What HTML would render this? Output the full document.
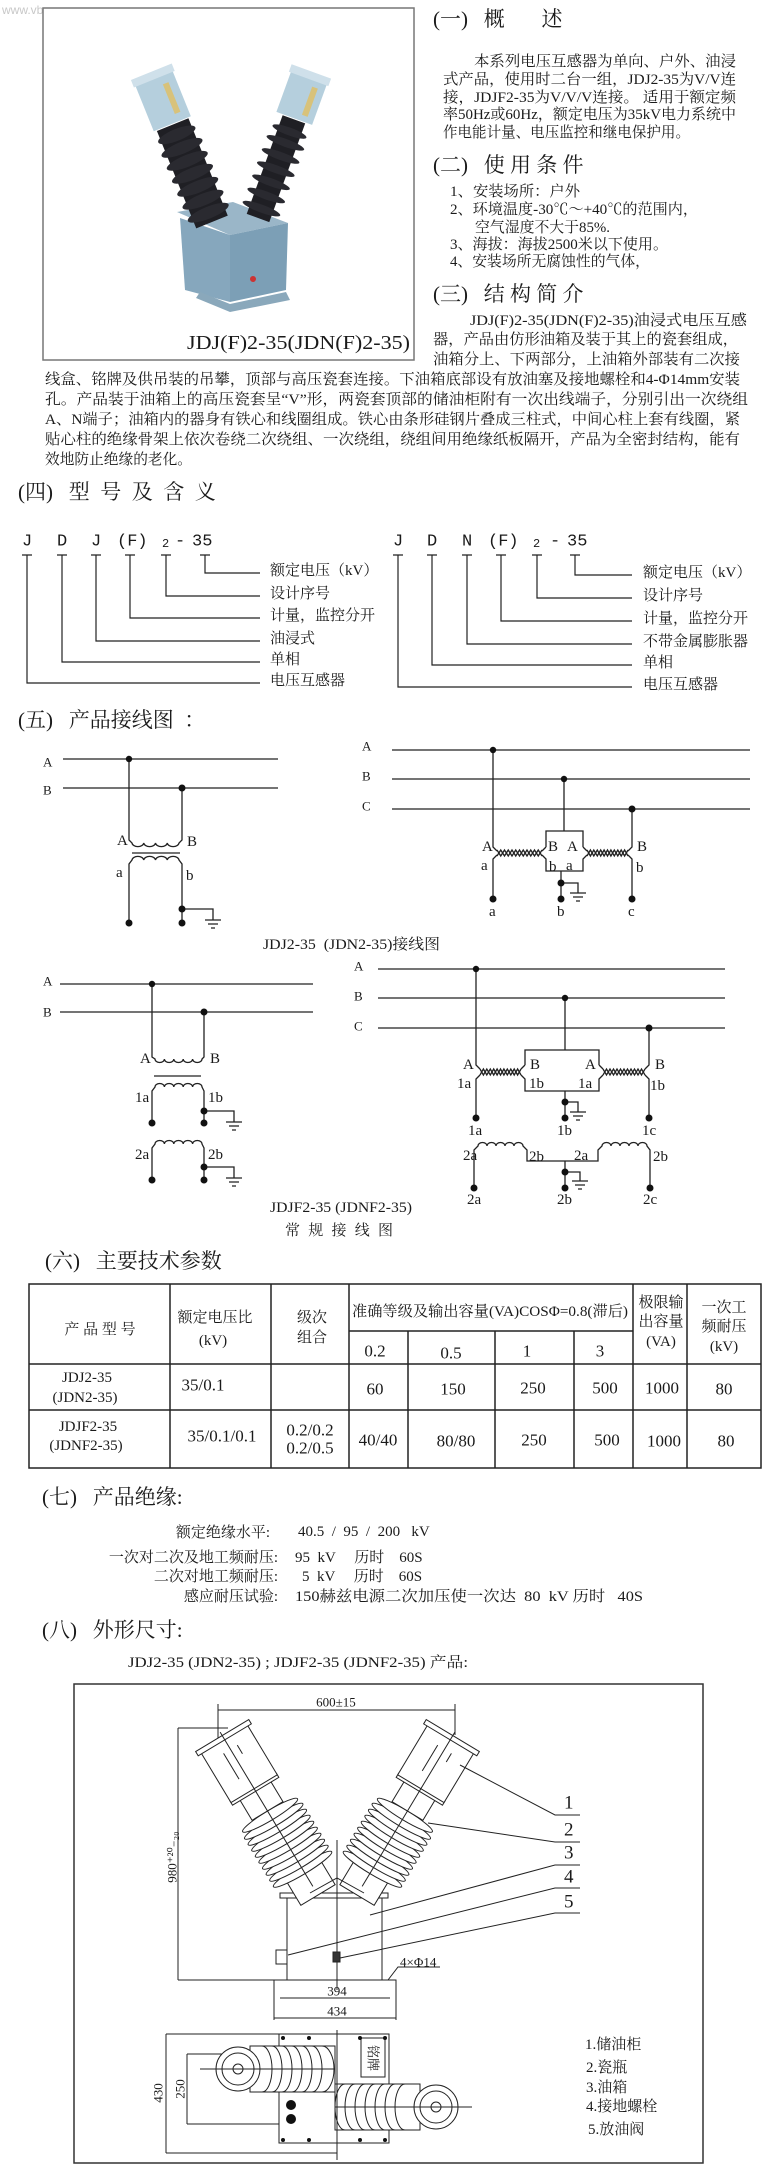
<!DOCTYPE html>
<html><head><meta charset="utf-8">
<style>
html,body{margin:0;padding:0;background:#fff;}
svg{display:block;}
text{font-family:"Liberation Serif","Noto Serif CJK SC",serif;fill:#1a1a1a;dominant-baseline:central;white-space:pre;}
.h{font-size:21px;}
.p{font-size:15px;}
.s{font-size:13px;}
.m{font-family:"Liberation Mono","Noto Serif CJK SC",monospace;font-size:17px;}
</style></head><body>
<svg width="780" height="2176" viewBox="0 0 780 2176" xmlns="http://www.w3.org/2000/svg" xml:space="preserve">
<rect width="780" height="2176" fill="#fff"/>
<text x="2" y="10" style="font-family:'Liberation Sans',sans-serif;font-size:12px;fill:#c8c8c8">www.vbmro.com</text>

<!-- photo box -->
<rect x="43" y="8" width="371" height="352" fill="#fff" stroke="#777" stroke-width="1.5"/>
<!-- tank -->
<polygon points="177,212 233,202 288,223 230,235" fill="#9ab6c8"/>
<polygon points="180,218 230,235 230,302 185,290" fill="#86a7bd"/>
<polygon points="230,235 288,223 286,290 230,302" fill="#7c9fb6"/>
<polygon points="200,292 230,304 286,292 290,300 230,312 196,298" fill="#8aa8bb"/>
<circle cx="253" cy="279" r="3" fill="#c33"/>
<!-- left insulator -->
<g transform="translate(212,222) rotate(-22)">
<rect x="-17" y="-105" width="34" height="105" fill="#1f1f24"/>
<g fill="#2a2a30"><ellipse cx="0" cy="-10" rx="22" ry="6"/><ellipse cx="0" cy="-24" rx="22" ry="6"/><ellipse cx="0" cy="-38" rx="22" ry="6"/><ellipse cx="0" cy="-52" rx="22" ry="6"/><ellipse cx="0" cy="-66" rx="22" ry="6"/><ellipse cx="0" cy="-80" rx="22" ry="6"/><ellipse cx="0" cy="-94" rx="20" ry="6"/></g>
<rect x="-20" y="-158" width="40" height="52" fill="#b5cfdd"/>
<rect x="-22" y="-162" width="44" height="8" fill="#cfe0ea"/>
<rect x="6" y="-146" width="6" height="32" fill="#d8c27a"/>
</g>
<!-- right insulator -->
<g transform="translate(258,218) rotate(20)">
<rect x="-12" y="-105" width="24" height="105" fill="#1f1f24"/>
<g fill="#2a2a30"><ellipse cx="0" cy="-10" rx="20" ry="4"/><ellipse cx="0" cy="-24" rx="20" ry="4"/><ellipse cx="0" cy="-38" rx="20" ry="4"/><ellipse cx="0" cy="-52" rx="20" ry="4"/><ellipse cx="0" cy="-66" rx="20" ry="4"/><ellipse cx="0" cy="-80" rx="20" ry="4"/><ellipse cx="0" cy="-92" rx="18" ry="4"/></g>
<rect x="-19" y="-152" width="38" height="46" fill="#b5cfdd"/>
<rect x="-21" y="-156" width="42" height="8" fill="#cfe0ea"/>
<rect x="6" y="-142" width="6" height="30" fill="#d8c27a"/>
</g>
<text x="187" y="343" style="font-size:20px" textLength="223" lengthAdjust="spacingAndGlyphs">JDJ(F)2-35(JDN(F)2-35)</text>

<!-- section 1 -->
<text class="h" x="433" y="19">(一)   概       述</text>
<text class="p" x="474" y="62" textLength="262" lengthAdjust="spacingAndGlyphs">本系列电压互感器为单向、户外、油浸</text>
<text class="p" x="443" y="80" textLength="293" lengthAdjust="spacingAndGlyphs">式产品，使用时二台一组，JDJ2-35为V/V连</text>
<text class="p" x="443" y="98" textLength="293" lengthAdjust="spacingAndGlyphs">接，JDJF2-35为V/V/V连接。 适用于额定频</text>
<text class="p" x="443" y="115" textLength="293" lengthAdjust="spacingAndGlyphs">率50Hz或60Hz，额定电压为35kV电力系统中</text>
<text class="p" x="443" y="133" textLength="247" lengthAdjust="spacingAndGlyphs">作电能计量、电压监控和继电保护用。</text>
<text class="h" x="433" y="165">(二)   使 用 条 件</text>
<text class="p" x="450" y="192" textLength="130" lengthAdjust="spacingAndGlyphs">1、安装场所：户外</text>
<text class="p" x="450" y="210" textLength="248" lengthAdjust="spacingAndGlyphs">2、环境温度-30℃～+40℃的范围内，</text>
<text class="p" x="475" y="228" textLength="135" lengthAdjust="spacingAndGlyphs">空气湿度不大于85%.</text>
<text class="p" x="450" y="245" textLength="218" lengthAdjust="spacingAndGlyphs">3、海拔：海拔2500米以下使用。</text>
<text class="p" x="450" y="262" textLength="200" lengthAdjust="spacingAndGlyphs">4、安装场所无腐蚀性的气体，</text>
<text class="h" x="433" y="294">(三)   结 构 简 介</text>
<text class="p" x="470" y="321" textLength="277" lengthAdjust="spacingAndGlyphs">JDJ(F)2-35(JDN(F)2-35)油浸式电压互感</text>
<text class="p" x="433" y="340" textLength="305" lengthAdjust="spacingAndGlyphs">器，产品由仿形油箱及装于其上的瓷套组成，</text>
<text class="p" x="433" y="360" textLength="307" lengthAdjust="spacingAndGlyphs">油箱分上、下两部分，上油箱外部装有二次接</text>
<text class="p" x="45" y="380" textLength="695" lengthAdjust="spacingAndGlyphs">线盒、铭牌及供吊装的吊攀，顶部与高压瓷套连接。下油箱底部设有放油塞及接地螺栓和4-Φ14mm安装</text>
<text class="p" x="45" y="400" textLength="703" lengthAdjust="spacingAndGlyphs">孔。产品装于油箱上的高压瓷套呈“V”形，两瓷套顶部的储油柜附有一次出线端子，分别引出一次绕组</text>
<text class="p" x="45" y="420" textLength="695" lengthAdjust="spacingAndGlyphs">A、N端子；油箱内的器身有铁心和线圈组成。铁心由条形硅钢片叠成三柱式，中间心柱上套有线圈，紧</text>
<text class="p" x="45" y="440" textLength="695" lengthAdjust="spacingAndGlyphs">贴心柱的绝缘骨架上依次卷绕二次绕组、一次绕组，绕组间用绝缘纸板隔开，产品为全密封结构，能有</text>
<text class="p" x="45" y="460" textLength="147" lengthAdjust="spacingAndGlyphs">效地防止绝缘的老化。</text>

<!-- section 4 -->
<text class="h" x="18" y="492">(四)   型  号  及  含  义</text>
<g>
<text class="m" x="22" y="542">J</text><text class="m" x="57" y="542">D</text><text class="m" x="91" y="542">J</text><text class="m" x="117" y="542">(F)</text><text class="m" x="162" y="544" style="font-size:12px">2</text><text class="m" x="175" y="542">-</text><text class="m" x="192" y="542">35</text>
<text class="m" x="393" y="542">J</text><text class="m" x="427" y="542">D</text><text class="m" x="462" y="542">N</text><text class="m" x="488" y="542">(F)</text><text class="m" x="533" y="544" style="font-size:12px">2</text><text class="m" x="550" y="542">-</text><text class="m" x="567" y="542">35</text>
</g>
<g stroke="#222" stroke-width="1.2" fill="none">
<path d="M22 555h10M57 555h10M91 555h10M125 555h10M161 555h10M200 555h10"/>
<path d="M205 555V573H260M166 555V596H260M130 555V618H260M96 555V641H260M62 555V662H260M27 555V683H260"/>
<path d="M393 555h10M427 555h10M462 555h10M496 555h10M532 555h10M570 555h10"/>
<path d="M575 555V575H632M537 555V598H632M501 555V621H632M467 555V644H632M432 555V665H632M398 555V687H632"/>
</g>
<text class="p" x="270" y="571">额定电压（kV）</text><text class="p" x="270" y="594">设计序号</text><text class="p" x="270" y="616">计量，监控分开</text><text class="p" x="270" y="639">油浸式</text><text class="p" x="270" y="660">单相</text><text class="p" x="270" y="681">电压互感器</text>
<text class="p" x="643" y="573">额定电压（kV）</text><text class="p" x="643" y="596">设计序号</text><text class="p" x="643" y="619">计量，监控分开</text><text class="p" x="643" y="642">不带金属膨胀器</text><text class="p" x="643" y="663">单相</text><text class="p" x="643" y="685">电压互感器</text>

<!-- section 5 -->
<text class="h" x="18" y="720">(五)   产品接线图  ：</text>

<g stroke="#222" stroke-width="1.3" fill="none">
<path d="M63 759H278M63 788H278"/>
<path d="M129 759V840L132 843a5.9 4 0 0 0 11.75 0a5.9 4 0 0 0 11.75 0a5.9 4 0 0 0 11.75 0a5.9 4 0 0 0 11.75 0L182 840V788"/>
<path d="M132 853H180"/>
<path d="M129 923V864L132 860a5.9 4 0 0 1 11.75 0a5.9 4 0 0 1 11.75 0a5.9 4 0 0 1 11.75 0a5.9 4 0 0 1 11.75 0L182 864V923"/>
<path d="M182 909H213V920M205 920h16M208 924h10M211 928h4"/>
<path d="M392 750H750M392 779H750M392 809H750"/>
<path d="M493 750V847L497 851M497 855L493 859V899"/>
<path d="M564 779V831M546 847V831H583V847M542 851L546 847M542 855L546 859V871H583V859L587 855M587 851L583 847"/>
<path d="M632 809V847L628 851M628 855L632 859V899"/>
<polyline points="497,850 500.75,856 504.5,850 508.25,856 512,850 515.75,856 519.5,850 523.25,856 527,850 530.75,856 534.5,850 538.25,856 542,850"/>
<polyline points="497,856 500.75,850 504.5,856 508.25,850 512,856 515.75,850 519.5,856 523.25,850 527,856 530.75,850 534.5,856 538.25,850 542,856"/>
<polyline points="587,850 590.4,856 593.8,850 597.3,856 600.7,850 604.1,856 607.5,850 610.9,856 614.3,850 617.8,856 621.2,850 624.6,856 628,850"/>
<polyline points="587,856 590.4,850 593.8,856 597.3,850 600.7,856 604.1,850 607.5,856 610.9,850 614.3,856 617.8,850 621.2,856 624.6,850 628,856"/>
<path d="M561 871V899M561 883H578V893M570 893h16M573 897h10M576 901h4"/>
<path d="M60 984H313M60 1012H313"/>
<path d="M152 984V1057L155 1059a4.7 3.5 0 0 0 9.4 0a4.7 3.5 0 0 0 9.4 0a4.7 3.5 0 0 0 9.4 0a4.7 3.5 0 0 0 9.4 0a4.7 3.5 0 0 0 9.4 0L204 1057V1012"/>
<path d="M154 1076H201"/>
<path d="M152 1123V1091L155 1087a4.7 3.5 0 0 1 9.4 0a4.7 3.5 0 0 1 9.4 0a4.7 3.5 0 0 1 9.4 0a4.7 3.5 0 0 1 9.4 0a4.7 3.5 0 0 1 9.4 0L204 1091V1123"/>
<path d="M204 1111H234V1122M226 1122h16M229 1126h10M232 1130h4"/>
<path d="M152 1180V1148L155 1144a4.7 3.5 0 0 1 9.4 0a4.7 3.5 0 0 1 9.4 0a4.7 3.5 0 0 1 9.4 0a4.7 3.5 0 0 1 9.4 0a4.7 3.5 0 0 1 9.4 0L204 1148V1180"/>
<path d="M204 1167H234V1178M226 1178h16M229 1182h10M232 1186h4"/>
<path d="M378 969H725M378 998H725M378 1028H725"/>
<path d="M476 969V1065L480 1069M480 1075L476 1079V1118"/>
<path d="M565 998V1050M525 1065V1050H599V1065M521 1069L525 1065M521 1075L525 1079V1091H599V1079L603 1075M603 1069L599 1065"/>
<path d="M649 1028V1065L645 1069M645 1075L649 1079V1118"/>
<polyline points="480,1069 483.4,1075 486.8,1069 490.3,1075 493.7,1069 497.1,1075 500.5,1069 503.9,1075 507.3,1069 510.8,1075 514.2,1069 517.6,1075 521,1069"/>
<polyline points="480,1075 483.4,1069 486.8,1075 490.3,1069 493.7,1075 497.1,1069 500.5,1075 503.9,1069 507.3,1075 510.8,1069 514.2,1075 517.6,1069 521,1075"/>
<polyline points="603,1069 606.5,1075 610,1069 613.5,1075 617,1069 620.5,1075 624,1069 627.5,1075 631,1069 634.5,1075 638,1069 641.5,1075 645,1069"/>
<polyline points="603,1075 606.5,1069 610,1075 613.5,1069 617,1075 620.5,1069 624,1075 627.5,1069 631,1075 634.5,1069 638,1075 641.5,1069 645,1075"/>
<path d="M565 1091V1118M565 1102H578V1112M570 1112h16M573 1116h10M576 1120h4"/>
<path d="M474 1188V1150L478 1146a4.5 3.5 0 0 1 9 0a4.5 3.5 0 0 1 9 0a4.5 3.5 0 0 1 9 0a4.5 3.5 0 0 1 9 0a4.5 3.5 0 0 1 9 0L527 1150V1161H598V1150L602 1146a4.5 3.5 0 0 1 9 0a4.5 3.5 0 0 1 9 0a4.5 3.5 0 0 1 9 0a4.5 3.5 0 0 1 9 0a4.5 3.5 0 0 1 9 0L650 1150V1188"/>
<path d="M565 1161V1188M565 1172H580V1181M572 1181h16M575 1185h10M578 1189h4"/>
</g>
<g fill="#111">
<circle cx="129" cy="759" r="3.2"/><circle cx="182" cy="788" r="3.5"/><circle cx="129" cy="923" r="3.5"/><circle cx="182" cy="909" r="3.5"/><circle cx="182" cy="923" r="3.5"/>
<circle cx="493" cy="750" r="3.2"/><circle cx="564" cy="779" r="3.2"/><circle cx="632" cy="809" r="3.5"/><circle cx="493" cy="899" r="3.5"/><circle cx="561" cy="883" r="3.5"/><circle cx="561" cy="899" r="3.5"/><circle cx="632" cy="899" r="3.5"/>
<circle cx="152" cy="984" r="3.2"/><circle cx="204" cy="1012" r="3.5"/><circle cx="152" cy="1123" r="3.5"/><circle cx="204" cy="1111" r="3.5"/><circle cx="204" cy="1123" r="3.5"/><circle cx="152" cy="1180" r="3.5"/><circle cx="204" cy="1167" r="3.5"/><circle cx="204" cy="1180" r="3.5"/>
<circle cx="476" cy="969" r="3.2"/><circle cx="565" cy="998" r="3.2"/><circle cx="649" cy="1028" r="3.5"/><circle cx="476" cy="1118" r="3.5"/><circle cx="565" cy="1102" r="3.5"/><circle cx="565" cy="1118" r="3.5"/><circle cx="649" cy="1118" r="3.5"/>
<circle cx="474" cy="1188" r="3.5"/><circle cx="565" cy="1172" r="3.5"/><circle cx="565" cy="1188" r="3.5"/><circle cx="650" cy="1188" r="3.5"/>
</g>
<text class="s" x="43" y="762">A</text><text class="s" x="43" y="790">B</text>
<text class="p" x="117" y="841">A</text><text class="p" x="187" y="842">B</text><text class="p" x="116" y="873">a</text><text class="p" x="186" y="876">b</text>
<text class="s" x="362" y="746">A</text><text class="s" x="362" y="776">B</text><text class="s" x="362" y="806">C</text>
<text class="p" x="482" y="847">A</text><text class="p" x="548" y="847">B</text><text class="p" x="567" y="847">A</text><text class="p" x="637" y="847">B</text>
<text class="p" x="481" y="866">a</text><text class="p" x="549" y="867">b</text><text class="p" x="566" y="866">a</text><text class="p" x="636" y="868">b</text>
<text class="p" x="489" y="912">a</text><text class="p" x="557" y="912">b</text><text class="p" x="628" y="912">c</text>
<text class="s" x="43" y="981">A</text><text class="s" x="43" y="1012">B</text>
<text class="p" x="140" y="1059">A</text><text class="p" x="210" y="1059">B</text>
<text class="p" x="135" y="1098">1a</text><text class="p" x="208" y="1098">1b</text><text class="p" x="135" y="1155">2a</text><text class="p" x="208" y="1155">2b</text>
<text class="s" x="354" y="966">A</text><text class="s" x="354" y="996">B</text><text class="s" x="354" y="1026">C</text>
<text class="p" x="463" y="1065">A</text><text class="p" x="530" y="1065">B</text><text class="p" x="585" y="1065">A</text><text class="p" x="655" y="1065">B</text>
<text class="p" x="457" y="1084">1a</text><text class="p" x="529" y="1084">1b</text><text class="p" x="578" y="1084">1a</text><text class="p" x="650" y="1086">1b</text>
<text class="p" x="468" y="1131">1a</text><text class="p" x="557" y="1131">1b</text><text class="p" x="642" y="1131">1c</text>
<text class="p" x="463" y="1156">2a</text><text class="p" x="529" y="1157">2b</text><text class="p" x="574" y="1156">2a</text><text class="p" x="653" y="1157">2b</text>
<text class="p" x="467" y="1200">2a</text><text class="p" x="557" y="1200">2b</text><text class="p" x="643" y="1200">2c</text>
<text class="p" x="263" y="945" textLength="177" lengthAdjust="spacingAndGlyphs">JDJ2-35  (JDN2-35)接线图</text>
<text class="p" x="270" y="1208" textLength="142" lengthAdjust="spacingAndGlyphs">JDJF2-35 (JDNF2-35)</text>
<text class="p" x="285" y="1231" textLength="108" lengthAdjust="spacing">常 规 接 线 图</text>

<!-- section 6 table -->
<text class="h" x="45" y="1261">(六)   主要技术参数</text>
<g stroke="#222" stroke-width="1.5" fill="none">
<rect x="29" y="1284" width="732" height="184"/>
<path d="M29 1364H761M29 1410H761M349 1331H633"/>
<path d="M170 1284V1468M271 1284V1468M349 1284V1468M633 1284V1468M687 1284V1468M408 1331V1468M495 1331V1468M574 1331V1468"/>
</g>
<text class="p" text-anchor="middle" x="100" y="1330">产 品 型 号</text>
<text class="p" text-anchor="middle" x="215" y="1318">额定电压比</text><text class="p" text-anchor="middle" x="213" y="1341">(kV)</text>
<text class="p" text-anchor="middle" x="312" y="1318">级次</text><text class="p" text-anchor="middle" x="312" y="1338">组合</text>
<text class="p" text-anchor="middle" x="490" y="1312" textLength="276" lengthAdjust="spacingAndGlyphs">准确等级及输出容量(VA)COSΦ=0.8(滞后)</text>
<text class="p" text-anchor="middle" x="375" y="1351" style="font-size:17px">0.2</text><text class="p" text-anchor="middle" x="451" y="1353" style="font-size:17px">0.5</text><text class="p" text-anchor="middle" x="527" y="1351" style="font-size:17px">1</text><text class="p" text-anchor="middle" x="600" y="1351" style="font-size:17px">3</text>
<text class="p" text-anchor="middle" x="661" y="1303">极限输</text><text class="p" text-anchor="middle" x="661" y="1322">出容量</text><text class="p" text-anchor="middle" x="661" y="1342">(VA)</text>
<text class="p" text-anchor="middle" x="724" y="1308">一次工</text><text class="p" text-anchor="middle" x="724" y="1327">频耐压</text><text class="p" text-anchor="middle" x="724" y="1347">(kV)</text>
<text class="p" text-anchor="middle" x="87" y="1378">JDJ2-35</text><text class="p" text-anchor="middle" x="85" y="1398">(JDN2-35)</text>
<text class="p" text-anchor="middle" x="203" y="1385" style="font-size:17px">35/0.1</text>
<text class="p" text-anchor="middle" x="375" y="1389" style="font-size:17px">60</text><text class="p" text-anchor="middle" x="453" y="1389" style="font-size:17px">150</text><text class="p" text-anchor="middle" x="533" y="1388" style="font-size:17px">250</text><text class="p" text-anchor="middle" x="605" y="1388" style="font-size:17px">500</text><text class="p" text-anchor="middle" x="662" y="1388" style="font-size:17px">1000</text><text class="p" text-anchor="middle" x="724" y="1389" style="font-size:17px">80</text>
<text class="p" text-anchor="middle" x="88" y="1427">JDJF2-35</text><text class="p" text-anchor="middle" x="86" y="1446">(JDNF2-35)</text>
<text class="p" text-anchor="middle" x="222" y="1436" style="font-size:17px">35/0.1/0.1</text>
<text class="p" text-anchor="middle" x="310" y="1430" style="font-size:17px">0.2/0.2</text><text class="p" text-anchor="middle" x="310" y="1448" style="font-size:17px">0.2/0.5</text>
<text class="p" text-anchor="middle" x="378" y="1440" style="font-size:17px">40/40</text><text class="p" text-anchor="middle" x="456" y="1441" style="font-size:17px">80/80</text><text class="p" text-anchor="middle" x="534" y="1440" style="font-size:17px">250</text><text class="p" text-anchor="middle" x="607" y="1440" style="font-size:17px">500</text><text class="p" text-anchor="middle" x="664" y="1441" style="font-size:17px">1000</text><text class="p" text-anchor="middle" x="726" y="1441" style="font-size:17px">80</text>

<!-- section 7 -->
<text class="h" x="42" y="1497">(七)   产品绝缘:</text>
<text class="p" x="270" y="1533" text-anchor="end">额定绝缘水平:</text><text class="p" x="298" y="1532">40.5  /  95  /  200   kV</text>
<text class="p" x="278" y="1558" text-anchor="end">一次对二次及地工频耐压:</text><text class="p" x="295" y="1558">95  kV     历时    60S</text>
<text class="p" x="278" y="1577" text-anchor="end">二次对地工频耐压:</text><text class="p" x="302" y="1577">5  kV     历时    60S</text>
<text class="p" x="278" y="1597" text-anchor="end">感应耐压试验:</text><text class="p" x="295" y="1597" textLength="348" lengthAdjust="spacingAndGlyphs">150赫兹电源二次加压使一次达  80  kV 历时   40S</text>

<!-- section 8 -->
<text class="h" x="42" y="1630">(八)   外形尺寸:</text>
<text class="p" x="128" y="1663" textLength="340" lengthAdjust="spacingAndGlyphs">JDJ2-35 (JDN2-35) ; JDJF2-35 (JDNF2-35) 产品:</text>

<rect x="74" y="1684" width="629" height="479" fill="none" stroke="#333" stroke-width="1.5"/>
<g stroke="#222" stroke-width="1" fill="#fff">
<path d="M218 1710H455M218 1704V1740M455 1704V1735" fill="none"/>
<path d="M178 1728V1980M178 1728H228M178 1980H274" fill="none"/>
<rect x="287" y="1897" width="95" height="83"/>
<rect x="280" y="1893" width="108" height="5"/>
<path d="M274 2020V1980H396V2020M280 1998H390M274 2018H396M337 1840V1990" fill="none"/>
<rect x="276" y="1950" width="11" height="14"/>
<rect x="333" y="1952" width="7" height="10" fill="#333"/>
<g transform="translate(318,1895) rotate(-31)">
<rect x="-20" y="-28" width="40" height="28"/>
<g><ellipse cx="0" cy="-30" rx="34" ry="5"/><ellipse cx="0" cy="-37" rx="34" ry="5"/><ellipse cx="0" cy="-44" rx="34" ry="5"/><ellipse cx="0" cy="-51" rx="34" ry="5"/><ellipse cx="0" cy="-58" rx="34" ry="5"/><ellipse cx="0" cy="-65" rx="34" ry="5"/><ellipse cx="0" cy="-72" rx="34" ry="5"/><ellipse cx="0" cy="-79" rx="34" ry="5"/><ellipse cx="0" cy="-86" rx="34" ry="5"/><ellipse cx="0" cy="-93" rx="32" ry="5"/></g>
<rect x="-18" y="-122" width="36" height="24"/>
<rect x="-27" y="-126" width="54" height="5"/>
<rect x="-27" y="-182" width="54" height="58"/>
<rect x="-31" y="-186" width="62" height="5"/>
<path d="M0 -190V-10M-8 -170v30M8 -170v10" fill="none"/>
</g>
<g transform="translate(357,1895) rotate(31)">
<rect x="-20" y="-28" width="40" height="28"/>
<g><ellipse cx="0" cy="-30" rx="34" ry="5"/><ellipse cx="0" cy="-37" rx="34" ry="5"/><ellipse cx="0" cy="-44" rx="34" ry="5"/><ellipse cx="0" cy="-51" rx="34" ry="5"/><ellipse cx="0" cy="-58" rx="34" ry="5"/><ellipse cx="0" cy="-65" rx="34" ry="5"/><ellipse cx="0" cy="-72" rx="34" ry="5"/><ellipse cx="0" cy="-79" rx="34" ry="5"/><ellipse cx="0" cy="-86" rx="34" ry="5"/><ellipse cx="0" cy="-93" rx="32" ry="5"/></g>
<rect x="-18" y="-122" width="36" height="24"/>
<rect x="-27" y="-126" width="54" height="5"/>
<rect x="-27" y="-182" width="54" height="58"/>
<rect x="-31" y="-186" width="62" height="5"/>
<path d="M0 -190V-10M-8 -170v30M8 -170v10" fill="none"/>
</g>
<path d="M310 1893L337 1878L364 1893" fill="none"/>
<path d="M460 1765L555 1815H580M428 1823L555 1842H580M370 1915L555 1865H580M288 1955L555 1888H580M340 1958L555 1913H580" fill="none"/>
<path d="M388 1980L398 1967H440" fill="none"/>
<path d="M166 2034V2153M166 2034H283M166 2153H337M187 2054V2124M187 2054H240M187 2124H283" fill="none"/>
<rect x="279" y="2034" width="110" height="109"/>
<rect x="361" y="2038" width="24" height="39"/>
<path d="M250 2046H335V2092H250Z"/>
<path d="M262 2046a10 23 0 0 1 0 46M272 2046a10 23 0 0 1 0 46M282 2046a10 23 0 0 1 0 46M292 2046a10 23 0 0 1 0 46M302 2046a10 23 0 0 1 0 46M312 2046a10 23 0 0 1 0 46M322 2046a12 23 0 0 1 0 46" fill="none"/>
<circle cx="238" cy="2069" r="22"/><circle cx="238" cy="2069" r="16" fill="none"/><circle cx="238" cy="2069" r="5"/>
<path d="M335 2084H420V2130H335Z"/>
<path d="M345 2084a10 23 0 0 0 0 46M355 2084a10 23 0 0 0 0 46M365 2084a10 23 0 0 0 0 46M375 2084a10 23 0 0 0 0 46M385 2084a10 23 0 0 0 0 46M395 2084a10 23 0 0 0 0 46M405 2084a10 23 0 0 0 0 46" fill="none"/>
<circle cx="436" cy="2107" r="22"/><circle cx="436" cy="2107" r="16" fill="none"/><circle cx="436" cy="2107" r="5"/>
<path d="M200 2069H335M335 2107H472M337 2030V2160" fill="none"/>
</g>
<g fill="#111">
<circle cx="291" cy="2105" r="5"/><circle cx="291" cy="2119" r="5"/>
<circle cx="283" cy="2038" r="2"/><circle cx="309" cy="2038" r="2"/><circle cx="360" cy="2038" r="2"/><circle cx="385" cy="2038" r="2"/>
<circle cx="283" cy="2140" r="2"/><circle cx="309" cy="2140" r="2"/><circle cx="360" cy="2140" r="2"/><circle cx="385" cy="2140" r="2"/>
</g>
<text class="s" x="336" y="1702" text-anchor="middle">600±15</text>
<text class="s" x="172" y="1857" text-anchor="middle" transform="rotate(-90 172 1857)">980⁺²⁰₋₂₀</text>
<text class="s" x="400" y="1962">4×Φ14</text>
<text class="s" x="337" y="1991" text-anchor="middle">394</text>
<text class="s" x="337" y="2011" text-anchor="middle">434</text>
<text class="s" x="158" y="2093" text-anchor="middle" transform="rotate(-90 158 2093)">430</text>
<text class="s" x="180" y="2089" text-anchor="middle" transform="rotate(-90 180 2089)">250</text>
<text class="s" x="373" y="2058" text-anchor="middle" transform="rotate(90 373 2058)">铭牌</text>
<text x="564" y="1803" style="font-size:19px">1</text><text x="564" y="1830" style="font-size:19px">2</text><text x="564" y="1853" style="font-size:19px">3</text><text x="564" y="1877" style="font-size:19px">4</text><text x="564" y="1902" style="font-size:19px">5</text>
<text class="p" x="585" y="2045">1.储油柜</text>
<text class="p" x="586" y="2068">2.瓷瓶</text>
<text class="p" x="586" y="2088">3.油箱</text>
<text class="p" x="586" y="2107">4.接地螺栓</text>
<text class="p" x="588" y="2130">5.放油阀</text>
</svg>
</body></html>
